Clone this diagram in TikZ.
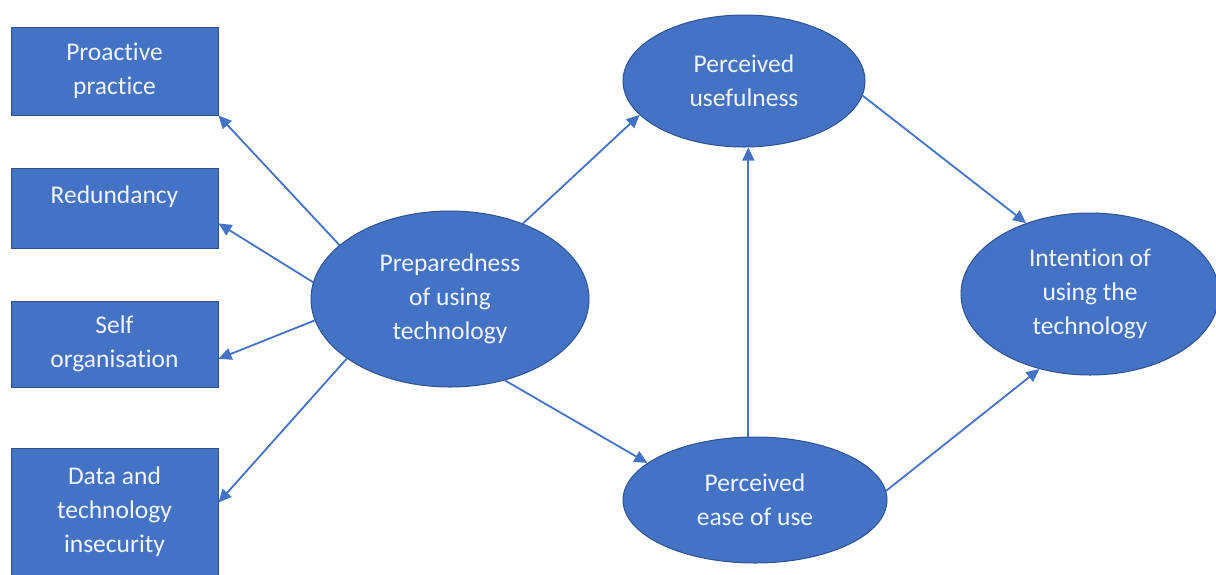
\documentclass[tikz,border=0pt]{standalone}
\usepackage{fontspec}
\setmainfont[Ligatures=NoCommon]{Carlito}
\usetikzlibrary{shapes.geometric,arrows.meta,calc}
\definecolor{ofblue}{HTML}{4472C4}
\definecolor{ofdark}{HTML}{2F528F}
\definecolor{oftext}{HTML}{F2F5FB}
\begin{document}
\begin{tikzpicture}[x=1pt,y=-1pt,
  txt/.style={text=oftext, align=center, font=\fontsize{25.5}{34}\selectfont},
  box/.style={txt, draw=ofdark, line width=1pt, fill=ofblue, rectangle, minimum width=207pt, inner sep=0pt},
  oval/.style={txt, draw=ofdark, line width=1pt, fill=ofblue, ellipse, inner sep=0pt},
  lbl/.style={txt, inner sep=0pt},
  link/.style={draw=ofblue, line width=1.8pt, -{Triangle[length=13pt,width=12pt]}}
]
\useasboundingbox (0,0) rectangle (1216,574);

% left boxes
\node[box, minimum height=88pt] (pro) at (114.5,71) {Proactive\\practice};
\node[box, minimum height=80pt] (red) at (114.5,208) {};
\node[lbl] (redlbl) at (114.5,197) {Redundancy};
\node[box, minimum height=86pt] (self) at (114.5,344) {Self\\organisation};
\node[box, minimum height=128pt] (data) at (114.5,512) {Data and\\technology\\insecurity};

% ellipses
\node[oval, minimum width=278pt, minimum height=176pt] (prep) at (450,299) {Preparedness\\of using\\technology};
\node[oval, minimum width=242pt, minimum height=132pt] (use) at (744,81) {Perceived\\usefulness};
\node[oval, minimum width=264pt, minimum height=126pt] (ease) at (755,500) {Perceived\\ease of use};
\node[oval, minimum width=258pt, minimum height=162pt] (int) at (1090,294) {Intention of\\using the\\technology};

% connectors
\draw[link] (prep.154) -- (pro.south east);
\draw[link] (prep.173) -- ($(red.south east)!0.31!(red.north east)$);
\draw[link] (prep.189) -- ($(self.south east)!0.33!(self.north east)$);
\draw[link] (prep.210) -- ($(data.north east)+(0,55)$);
\draw[link] (prep.46) -- (use.198);
\draw[link] (prep.304) -- (ease.161);
\draw[link] (ease.96) -- (ease.96 |- use.south);
\draw[link] (use.353) -- (int.132);
\draw[link] (ease.4) -- (int.236);
\end{tikzpicture}
\end{document}
